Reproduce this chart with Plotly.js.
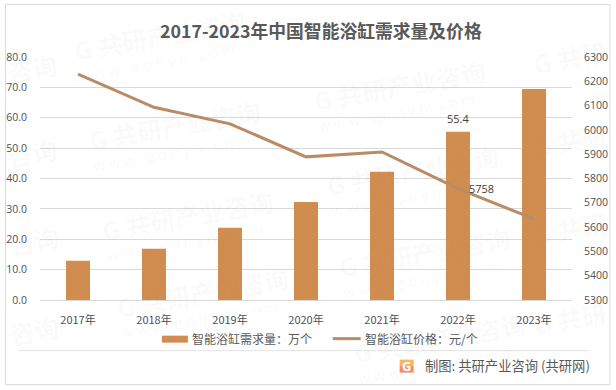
<!DOCTYPE html>
<html><head><meta charset="utf-8">
<script src="https://cdn.plot.ly/plotly-3.0.0.min.js"></script>
<style>html,body{margin:0;padding:0;background:#fff}#c{width:616px;height:390px}</style></head>
<body><div id="c"></div>
<script>
const years=['2017年','2018年','2019年','2020年','2021年','2022年','2023年'];
const demand=[12.9,16.9,23.8,32.3,42.2,55.4,69.5];
const price=[6230,6093,6025,5889,5909,5758,5634];
const leftTicks=[0,10,20,30,40,50,60,70,80];
const rightTicks=[5300,5400,5500,5600,5700,5800,5900,6000,6100,6200,6300];
const demandName='智能浴缸需求量：万个';
const priceName='智能浴缸价格：元/个';
const titleText='2017-2023年中国智能浴缸需求量及价格';
const sourceText='制图: 共研产业咨询 (共研网)';
const wmMain='G 共研产业咨询';
const wmLeft='咨询';
const wmRight='G 共研';
const wmSub='w w w . g o n y n . c o m';
const wmSpots=[[160,35],[175,125],[188,215],[203,292],[400,85],[413,170],[425,252],[440,338]];
const wmLeftSpots=[[32,68],[32,152],[34,240],[34,330]];
const wmRightSpots=[[570,57],[570,140],[570,228],[570,318]];
const F='"Noto Sans CJK SC","Open Sans",sans-serif';
const px=v=>(v-40)/532.5, py=v=>(300.3-v)/243.3;
const wmAnn=[];
const wm=(x,y,text,size,alpha)=>({xref:'paper',yref:'paper',x:px(x),y:py(y),xanchor:'center',yanchor:'middle',text,showarrow:false,textangle:-10,font:{family:F,size,color:'rgba(120,120,120,'+alpha+')'}});
wmSpots.forEach(p=>{
 wmAnn.push(wm(p[0],p[1],'<b>'+wmMain+'</b>',25,0.045));
 wmAnn.push(wm(p[0]-3,p[1]+27,wmSub,15,0.05));
});
wmLeftSpots.forEach(p=>wmAnn.push(wm(p[0],p[1],'<b>'+wmLeft+'</b>',25,0.045)));
wmRightSpots.forEach(p=>wmAnn.push(wm(p[0],p[1],'<b>'+wmRight+'</b>',25,0.045)));
const T=(x,y,text,size,color,anchor,fam)=>({xref:'paper',yref:'paper',x:px(x),y:py(y),xanchor:anchor||'center',yanchor:'middle',text,showarrow:false,font:{family:fam||F,size,color}});
Plotly.newPlot('c',[
 {type:'bar',x:years,y:demand,name:demandName,marker:{color:'#D18D50'},width:0.316,yaxis:'y',hoverinfo:'skip'},
 {type:'scatter',mode:'lines',x:years,y:price,name:priceName,yaxis:'y2',line:{color:'#B98C68',width:3}}
],{
 width:616,height:390,margin:{l:40,r:43.5,t:57,b:89.7},
 paper_bgcolor:'#fff',plot_bgcolor:'rgba(0,0,0,0)',showlegend:false,bargap:0.684,
 xaxis:{tickfont:{family:F,size:11,color:'#505050'},ticks:'',showline:true,linecolor:'#d9d9d9',linewidth:1,fixedrange:true,ticklabelstandoff:10},
 yaxis:{range:[0,80],tickvals:leftTicks,ticktext:leftTicks.map(v=>v.toFixed(1)),tickfont:{family:'"Open Sans",sans-serif',size:10.5,color:'#505050'},gridcolor:'#d9d9d9',gridwidth:1,zeroline:false,ticks:'',showline:false,ticklabelstandoff:12},
 yaxis2:{range:[5300,6300],overlaying:'y',side:'right',tickvals:rightTicks,tickfont:{family:'"Open Sans",sans-serif',size:10.5,color:'#505050'},showgrid:false,zeroline:false,ticks:'',showline:false,ticklabelstandoff:11},
 shapes:[
  {type:'rect',xref:'paper',yref:'paper',x0:px(5.5),x1:px(610.5),y0:py(385),y1:py(4.5),line:{color:'#d9d9d9',width:1},fillcolor:'rgba(0,0,0,0)'},
  {type:'line',xref:'paper',yref:'paper',x0:px(18),x1:px(590),y0:py(351),y1:py(351),line:{color:'#e3e3e3',width:1}},
  {type:'rect',xref:'paper',yref:'paper',x0:px(162),x1:px(188),y0:py(343),y1:py(336),fillcolor:'#D18D50',line:{width:0}},
  {type:'line',xref:'paper',yref:'paper',x0:px(333),x1:px(361),y0:py(339),y1:py(339),line:{color:'#B98C68',width:3}},
  {type:'rect',xref:'paper',yref:'paper',x0:px(400),x1:px(414),y0:py(366.5),y1:py(360),fillcolor:'#F8B75E',line:{width:0}},
  {type:'rect',xref:'paper',yref:'paper',x0:px(400),x1:px(414),y0:py(373),y1:py(366.5),fillcolor:'#F48F62',line:{width:0}}
 ],
 annotations:wmAnn.concat([
  T(321,30,'<b>'+titleText+'</b>',17.8,'#595959'),
  T(190.5,339,demandName,12,'#595959','left'),
  T(363,339,priceName,12,'#595959','left'),
  T(423,366,sourceText,13.3,'#595959','left'),
  {xref:'x',yref:'y',x:5,y:demand[5],text:demand[5].toFixed(1),showarrow:false,yshift:13,xanchor:'center',yanchor:'middle',font:{family:'"Open Sans",sans-serif',size:11,color:'#404040'}},
  {xref:'x',yref:'y2',x:5,y:price[5],text:String(price[5]),showarrow:false,xshift:23,yshift:0,xanchor:'center',yanchor:'middle',font:{family:'"Open Sans",sans-serif',size:11,color:'#404040'}},
  T(407,366.5,'<b>G</b>',13,'#ffffff','center','"Open Sans",sans-serif')
 ])
},{displayModeBar:false,staticPlot:true});
</script></body></html>
